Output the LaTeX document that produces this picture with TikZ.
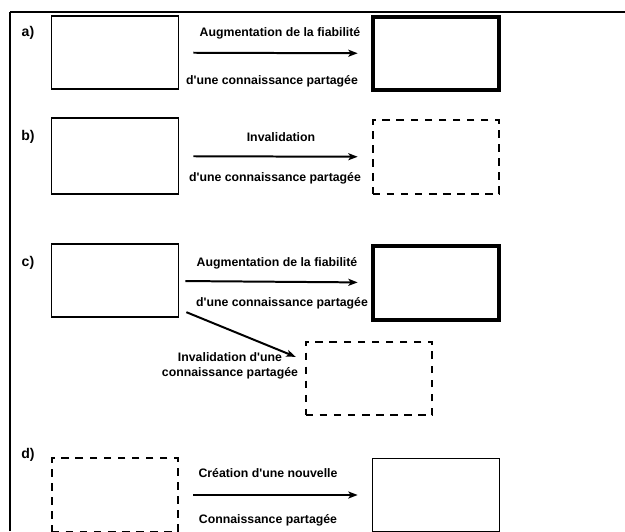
\documentclass[tikz,border=0pt]{standalone}
\usepackage{fontspec}
\setmainfont{Liberation Sans}[Ligatures=TeXOff]
\usetikzlibrary{arrows.meta}
\tikzset{
  boite/.style={draw, line width=1.3pt, minimum width=3.8cm, minimum height=2.2cm, inner sep=0pt, outer sep=0pt},
  boitefort/.style={boite, line width=3.4pt},
  boitetiret/.style={boite, line width=1.7pt, dash pattern=on 6.5pt off 5.5pt},
  fleche/.style={->, line width=1.7pt, shorten <=0.45cm, shorten >=0.45cm},
  texte/.style={font=\bfseries\fontsize{10.5}{12.5}\selectfont, inner sep=0pt},
  lettre/.style={font=\bfseries\fontsize{12}{14}\selectfont, inner sep=0pt}
}
\begin{document}
\begin{tikzpicture}[>={Stealth[length=8pt, width=6pt, inset=2pt]}, x=0.03cm, y=-0.03cm]
\useasboundingbox (0,0) rectangle (625,531);
\clip (0,0) rectangle (625,531);
% cadre
\draw[line width=1.6pt](10,531)--(10,12);
\draw[line width=0.9pt](10,12)--(625,12);
% a)
\node[lettre] (la) at (28,33) {a)};
\node[boite] (a1) at (115,52.5) {};
\node[boitefort] (a2) at (436,53.5) {};
\draw[fleche](a1)--(a2);
\node[texte] (ta1) at (280,33) {Augmentation de la fiabilité};
\node[texte] (ta2) at (272,81) {d'une connaissance partagée};
% b)
\node[lettre] (lb) at (28,137) {b)};
\node[boite, minimum height=2.28cm] (b1) at (115,156) {};
\node[boitetiret] (b2) at (436,157) {};
\draw[fleche](b1)--(b2);
\node[texte] (tb1) at (281,137) {Invalidation};
\node[texte] (tb2) at (275,178) {d'une connaissance partagée};
% c)
\node[lettre] (lc) at (28,263) {c)};
\node[boite] (c1) at (115,280.5) {};
\node[boitefort] (c2) at (436,283) {};
\node[boitetiret] (c3) at (369,378.5) {};
\draw[fleche, shorten <=0.21cm](c1)--(c2);
\draw[->, line width=1.7pt]([shift={(8,-5)}]c1.south east)--([shift={(-10,15)}]c3.north west);
\node[texte] (tc1) at (277,263) {Augmentation de la fiabilité};
\node[texte] (tc2) at (282,303) {d'une connaissance partagée};
\node[texte, align=center] (tc3) at (230,366) {Invalidation d'une\\connaissance partagée};
% d)
\node[lettre] (ld) at (28,455) {d)};
\node[boitetiret] (d1) at (115,495) {};
\node[boite] (d2) at (436,495) {};
\draw[fleche](d1)--(d2);
\node[texte] (td1) at (268,473) {Création d'une nouvelle};
\node[texte] (td2) at (268,520) {Connaissance partagée};
\end{tikzpicture}
\end{document}
